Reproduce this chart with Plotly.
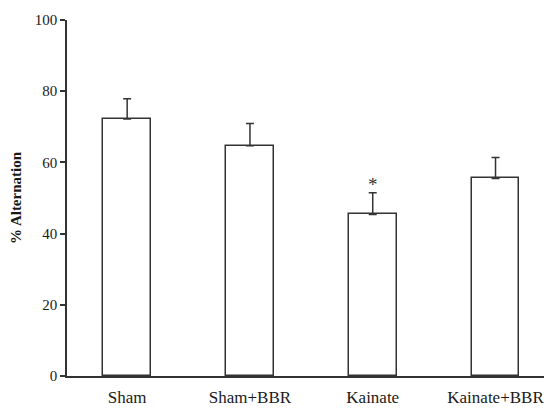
import plotly.graph_objects as go

groups = ["Sham", "Sham+BBR", "Kainate", "Kainate+BBR"]
alternation = [72.2, 64.7, 45.4, 55.5]
sem = [5.7, 6.2, 6.1, 5.9]
significance = ["", "", "*", ""]
y_ticks = [0, 20, 40, 60, 80, 100]

line_col = "#333333"
font_fam = "Times New Roman, Liberation Serif, DejaVu Serif, serif"
txt_col = "#1a1a1a"

fig = go.Figure()
fig.add_trace(go.Bar(
    x=groups, y=alternation, width=0.39,
    marker=dict(color="white", line=dict(color=line_col, width=1.5)),
    error_y=dict(type="data", array=sem, arrayminus=[0]*len(sem), symmetric=False,
                 color=line_col, thickness=1.5, width=4),
    showlegend=False,
))
fig.add_trace(go.Scatter(
    x=groups, y=[a + s + 1.8 for a, s in zip(alternation, sem)],
    text=significance, mode="text", textposition="middle center",
    textfont=dict(family=font_fam, size=19, color=line_col),
    showlegend=False, hoverinfo="skip",
))

fig.update_layout(
    width=544, height=406,
    margin=dict(l=59, r=0, t=12, b=38),
    paper_bgcolor="white", plot_bgcolor="white",
    font=dict(family=font_fam, color=txt_col),
    bargap=0,
    xaxis=dict(range=[-0.49, 3.46], showline=True, linecolor=line_col, linewidth=1.5,
               ticks="", showgrid=False, zeroline=False, ticklabelstandoff=5,
               tickfont=dict(family=font_fam, size=17, color=txt_col)),
    yaxis=dict(range=[0, 100], tickvals=y_ticks, showline=True, linecolor=line_col,
               linewidth=1.5, ticks="outside", ticklen=5, tickwidth=1.5, tickcolor=line_col,
               showgrid=False, zeroline=False,
               tickfont=dict(family=font_fam, size=15, color=txt_col),
               title=dict(text="<b>% Alternation</b>",
                          font=dict(family=font_fam, size=15, color=txt_col),
                          standoff=10)),
)

fig.write_html("out.html")
